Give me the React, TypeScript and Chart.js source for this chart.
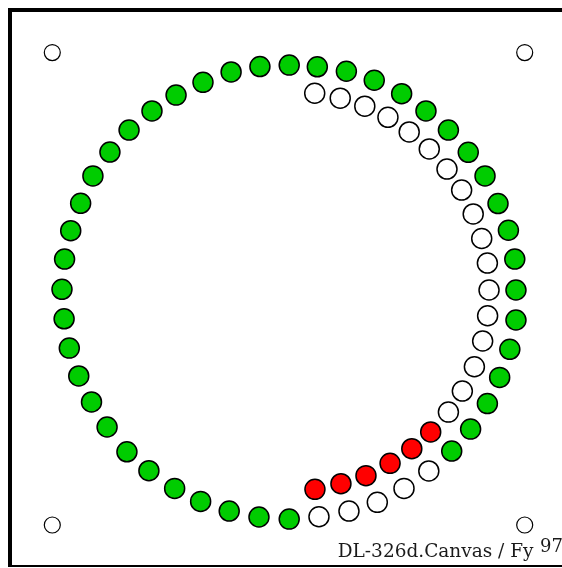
import React, { useEffect, useRef } from "react";
import { Chart, registerables } from "chart.js";

Chart.register(...registerables);

// Plate coordinates: centre 0, corner marks at ±100
const cornerX = [-100, 100, -100, 100];
const cornerY = [100, 100, -100, -100];

const greenX = [
  0.3, 12.2, 24.5, 36.3, 47.9, 58.2, 67.7, 76.1, 83.2, 88.7, 93.1, 95.8, 96.3, 96.3, 93.7, 89.4, 84.2, 77.1, 69.1,
  -12.1, -24.3, -36.2, -47.6, -57.8, -67.5, -75.6, -82.8, -88.0, -92.2, -94.8, -95.9, -95.0, -92.8, -88.8, -83.4,
  -76.8, -68.4, -59.1, -48.2, -37.2, -25.1, -12.5, 0.3,
];
const greenY = [
  94.7, 94.0, 92.1, 88.3, 82.6, 75.3, 67.2, 57.8, 47.8, 36.1, 24.8, 12.6, -0.5, -13.2, -25.6, -37.5, -48.6, -59.4, -68.7,
  94.1, 91.8, 87.4, 82.0, 75.3, 67.2, 57.9, 47.8, 36.2, 24.6, 12.6, -0.2, -12.7, -25.1, -36.9, -47.9,
  -58.5, -69.0, -77.0, -84.5, -90.0, -94.1, -96.6, -97.5,
];

const emptyX = [
  12.9, 25.6, 37.6, 48.9, 59.4,
  11.1, 21.9, 32.3, 42.1, 51.1, 59.6, 67.1, 73.3, 78.2, 81.8, 84.2, 84.9, 84.3, 82.2, 78.7, 73.6, 67.7,
];
const emptyY = [
  -96.5, -94.1, -90.4, -84.5, -77.1,
  82.8, 80.7, 77.3, 72.6, 66.4, 59.2, 50.7, 41.8, 31.7, 21.3, 10.9, -0.5, -11.4, -22.1, -33.0, -43.3, -52.2,
];

const redX = [60.2, 52.2, 43.0, 32.8, 22.2, 11.2];
const redY = [-60.6, -67.7, -73.9, -79.1, -82.5, -84.9];

const captionMain = "DL-326d.Canvas / Fy";
const captionSup = "97";

const toPoints = (xs: number[], ys: number[]) => xs.map((x, i) => ({ x, y: ys[i] }));

const captionPlugin = {
  id: "caption",
  afterDraw(chart: any) {
    const ctx = chart.ctx as CanvasRenderingContext2D;
    ctx.save();
    ctx.fillStyle = "#1a1a1a";
    ctx.textBaseline = "alphabetic";
    ctx.font = '18.5px "DejaVu Serif"';
    ctx.textAlign = "right";
    ctx.fillText(captionMain, 521.5, 544.5);
    ctx.font = '18px "DejaVu Serif"';
    ctx.textAlign = "left";
    ctx.fillText(captionSup, 528, 539.5);
    ctx.restore();
  },
};

export default function App() {
  const ref = useRef<HTMLCanvasElement | null>(null);

  useEffect(() => {
    if (!ref.current) return;
    const chart = new Chart(ref.current, {
      type: "scatter",
      data: {
        datasets: [
          {
            label: "corners",
            data: toPoints(cornerX, cornerY),
            pointRadius: 8,
            pointBackgroundColor: "#ffffff",
            pointBorderColor: "#000000",
            pointBorderWidth: 1.2,
          },
          {
            label: "green",
            data: toPoints(greenX, greenY),
            pointRadius: 10,
            pointBackgroundColor: "#00cc00",
            pointBorderColor: "#000000",
            pointBorderWidth: 1.5,
          },
          {
            label: "red",
            data: toPoints(redX, redY),
            pointRadius: 10,
            pointBackgroundColor: "#ff0000",
            pointBorderColor: "#000000",
            pointBorderWidth: 1.5,
          },
          {
            label: "empty",
            data: toPoints(emptyX, emptyY),
            pointRadius: 10,
            pointBackgroundColor: "#ffffff",
            pointBorderColor: "#000000",
            pointBorderWidth: 1.5,
          },
        ],
      },
      options: {
        animation: false,
        responsive: false,
        maintainAspectRatio: false,
        layout: { padding: 0, autoPadding: false },
        events: [],
        plugins: {
          legend: { display: false },
          tooltip: { enabled: false },
        },
        scales: {
          x: { type: "linear", display: false, min: -117.06, max: 115.79 },
          y: { type: "linear", display: false, min: -116.93, max: 117.19 },
        },
      },
      plugins: [captionPlugin],
    });
    return () => chart.destroy();
  }, []);

  return (
    <div
      style={{
        position: "fixed",
        top: 8,
        left: 8,
        width: 556,
        height: 553,
        borderTop: "4px solid #000",
        borderLeft: "4px solid #000",
        borderRight: "4px solid #000",
        borderBottom: "2px solid #000",
        overflow: "hidden",
      }}
    >
      <canvas ref={ref} width={550} height={553} style={{ display: "block", width: 550, height: 553 }} />
    </div>
  );
}
